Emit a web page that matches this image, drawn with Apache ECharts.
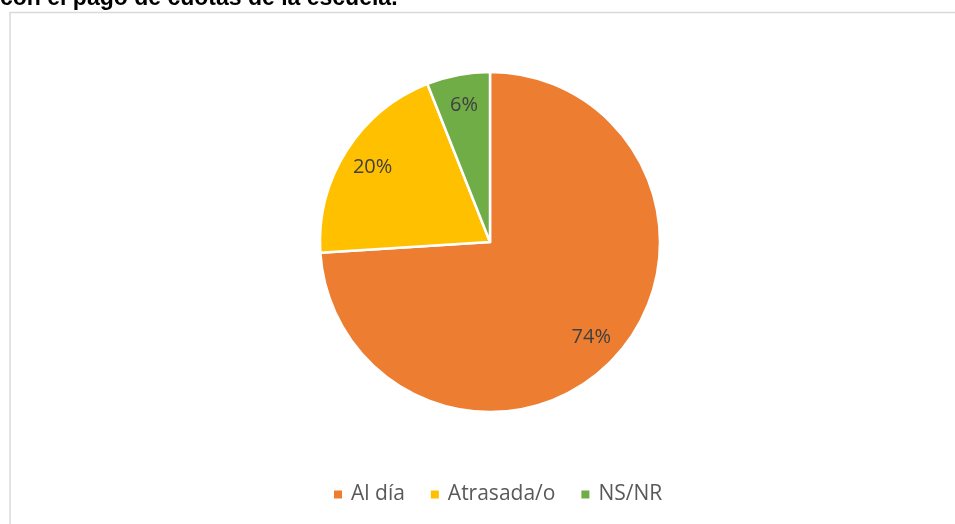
<!DOCTYPE html>
<html>
<head>
<meta charset="utf-8">
<script src="https://cdn.jsdelivr.net/npm/echarts@6/dist/echarts.min.js"></script>
<style>
  html, body { margin: 0; padding: 0; background: #fff; }
  #chart { width: 955px; height: 524px; }
</style>
</head>
<body>
<div id="chart"></div>
<script>
// data
var categories = ['Al día', 'Atrasada/o', 'NS/NR']
var values = [74, 20, 6]
var colors = ['#ED7D31', '#FFC000', '#70AD47']
var headline = 'con el pago de cuotas de la escuela.'

var chart = echarts.init(document.getElementById('chart'))

var pieData = categories.map(function(name, i) {
  return { name: name, value: values[i] }
})

chart.setOption({
  animation: false,
  color: colors,
  textStyle: { fontFamily: '"Open Sans", sans-serif' },
  graphic: [
    {
      type: 'rect',
      shape: { x: 10, y: 12.5, width: 1000, height: 600 },
      style: { fill: 'none', stroke: '#d9d9d9', lineWidth: 1.5 },
      silent: true
    },
    {
      type: 'text',
      left: 0,
      top: -13,
      style: {
        text: headline,
        font: 'bold 23px "Liberation Sans", Arial, sans-serif',
        fill: '#000'
      },
      silent: true
    }
  ],
  legend: {
    data: categories,
    top: 479,
    left: 327,
    icon: 'rect',
    itemWidth: 10,
    itemHeight: 10,
    itemGap: 24,
    textStyle: {
      fontSize: 21,
      color: '#595959',
      fontFamily: '"Open Sans", sans-serif',
      padding: [0, 0, 0, 3]
    }
  },
  series: [
    {
      // visible pie
      name: 'pie',
      type: 'pie',
      center: [490, 242],
      radius: [0, 170],
      startAngle: 90,
      clockwise: true,
      data: pieData,
      label: { show: false },
      labelLine: { show: false },
      itemStyle: { borderColor: '#fff', borderWidth: 2.5 },
      emphasis: { disabled: true }
    },
    {
      // transparent ring, only carries the percentage labels
      name: 'labels',
      type: 'pie',
      center: [490, 242],
      radius: [102, 170],
      startAngle: 90,
      clockwise: true,
      silent: true,
      data: pieData,
      itemStyle: { color: 'rgba(0,0,0,0)' },
      label: {
        show: true,
        position: 'inside',
        formatter: '{c}%',
        fontSize: 20,
        color: '#404040',
        fontFamily: '"Open Sans", sans-serif'
      },
      labelLine: { show: false },
      emphasis: { disabled: true }
    }
  ]
})
</script>
</body>
</html>
